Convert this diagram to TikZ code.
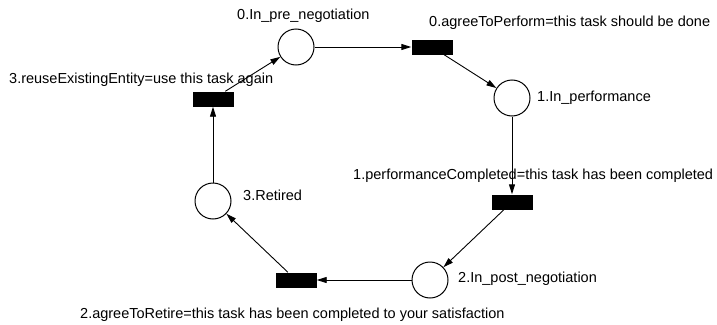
\documentclass[tikz,border=0pt]{standalone}
\usepackage{fontspec}
\setmainfont{Liberation Sans}
\usetikzlibrary{arrows.meta}

\begin{document}
\begin{tikzpicture}[x=1pt,y=-1pt,
  place/.style={circle,draw=black,line width=1pt,minimum size=36pt,inner sep=0pt,fill=white},
  trans/.style={rectangle,fill=black,draw=none,minimum width=41pt,minimum height=15pt,inner sep=0pt},
  lbl/.style={anchor=base west,inner sep=0pt,font=\fontsize{14.5}{17}\selectfont},
  arc/.style={draw=black,line width=0.9pt,-{Triangle[length=10pt,width=6pt]}}]
  % canvas
  \useasboundingbox[fill=white] (0,0) rectangle (717,324);

  % places
  \node[place] (p0) at (296,47) {};
  \node[place] (p1) at (512,98) {};
  \node[place] (p2) at (430,280) {};
  \node[place] (p3) at (213,201) {};

  % transitions
  \node[trans] (t0) at (432,47) {};
  \node[trans] (t1) at (512,202) {};
  \node[trans] (t2) at (296,280) {};
  \node[trans] (t3) at (213,99) {};

  % labels
  \node[lbl] (lp0) at (237,19) {0.In\_pre\_negotiation};
  \node[lbl] (lp1) at (537,101) {1.In\_performance};
  \node[lbl] (lp2) at (458,282) {2.In\_post\_negotiation};
  \node[lbl] (lp3) at (243,200) {3.Retired};
  \node[lbl] (lt0) at (429,26.5) {0.agreeToPerform=this task should be done};
  \node[lbl] (lt1) at (353,179) {1.performanceCompleted=this task has been completed};
  \node[lbl] (lt2) at (80,318) {2.agreeToRetire=this task has been completed to your satisfaction};
  \node[lbl] (lt3) at (9,83) {3.reuseExistingEntity=use this task again};

  % arcs
  \draw[arc] (p0) -- (t0);
  \draw[arc] (t0) -- (p1);
  \draw[arc] (p1) -- (t1);
  \draw[arc] (t1) -- (p2);
  \draw[arc] (p2) -- (t2);
  \draw[arc] (t2) -- (p3);
  \draw[arc] (p3) -- (t3);
  \draw[arc] (t3) -- (p0);
\end{tikzpicture}
\end{document}
